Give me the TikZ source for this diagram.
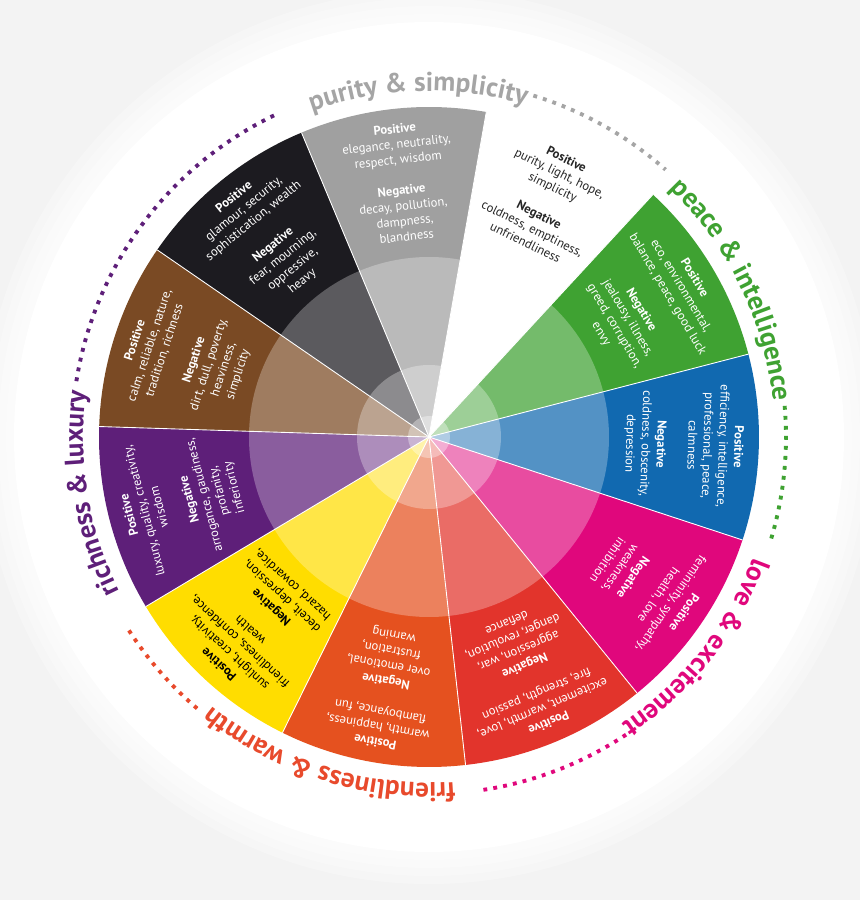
\documentclass[tikz,border=0pt]{standalone}
\usepackage{fontspec}
\setmainfont{PT Sans}
\usetikzlibrary{decorations.text}
\definecolor{bggray}{HTML}{F3F3F3}
\definecolor{wheelgray}{HTML}{A0A0A0}
\definecolor{wheelblack}{HTML}{1C1B20}
\definecolor{wheelbrown}{HTML}{7A4A24}
\definecolor{wheelpurple}{HTML}{5E1F79}
\definecolor{wheelyellow}{HTML}{FFDD00}
\definecolor{wheelorange}{HTML}{E5511F}
\definecolor{wheelred}{HTML}{E2342C}
\definecolor{wheelpink}{HTML}{E0077C}
\definecolor{wheelblue}{HTML}{1169B0}
\definecolor{wheelgreen}{HTML}{3FA232}
\definecolor{labelgray}{HTML}{A5A5A5}
\definecolor{labelred}{HTML}{E84A2C}
\newcommand\arclabelfont{\fontsize{15.5}{15.5}\selectfont\bfseries}

\begin{document}
\begin{tikzpicture}[x=0.02cm, y=0.02cm,
  sectortext/.style={font=\fontsize{7.2}{8.8}\selectfont, align=center, anchor=north, inner sep=0pt, text=white},
  dotline/.style={line width=2.2pt, dash pattern=on 2.2pt off 3.5pt}]
  \useasboundingbox (-429,-463) rectangle (431,437);
  \fill[bggray] (-429,-463) rectangle (431,437);
  \foreach \r in {447,439,431,423} \fill[white, opacity=0.3] (0,0) circle[radius=\r];
  \fill[white] (0,0) circle[radius=415];

  \foreach \col [count=\k from 0] in {white,wheelgreen,wheelblue,wheelpink,wheelred,wheelorange,wheelyellow,wheelpurple,wheelbrown,wheelblack,wheelgray} {
    \pgfmathsetmacro\a{80-(\k+1)*360/11}
    \pgfmathsetmacro\b{80-\k*360/11}
    \fill[\col] (0,0) -- (\a:330) arc[start angle=\a, end angle=\b, radius=330] -- cycle;
  }
  \fill[white, opacity=0.28] (0,0) circle[radius=180];
  \fill[white, opacity=0.3] (0,0) circle[radius=72];
  \fill[white, opacity=0.35] (0,0) circle[radius=21];
  \foreach \k in {0,...,10} \draw[white, line width=0.5pt] (0,0) -- ({80-\k*360/11}:330);

  \node[sectortext, text=black!85, rotate=-26.36] (whitetext) at (63.64:315) {\textbf{Positive}\\purity, light, hope,\\simplicity\\[8.8pt]\textbf{Negative}\\coldness, emptiness,\\unfriendliness};
  \node[sectortext, rotate=-59.09] (greentext) at (30.91:315) {\textbf{Positive}\\eco, environmental,\\balance, peace, good luck\\[8.8pt]\textbf{Negative}\\jealousy, illness,\\greed, corruption,\\envy};
  \node[sectortext, rotate=-91.82] (bluetext) at (-1.82:315) {\textbf{Positive}\\efficiency, intelligence,\\professional, peace,\\calmness\\[8.8pt]\textbf{Negative}\\coldness, obscenity,\\depression};
  \node[sectortext, rotate=-124.55] (pinktext) at (-34.55:315) {\textbf{Positive}\\femininity, sympathy,\\health, love\\[8.8pt]\textbf{Negative}\\weakness,\\inhibition};
  \node[sectortext, rotate=-157.27] (redtext) at (-67.27:315) {\textbf{Positive}\\excitement, warmth, love,\\fire, strength, passion\\[8.8pt]\textbf{Negative}\\aggression, war,\\danger, revolution,\\defiance};
  \node[sectortext, rotate=-190] (orangetext) at (-100:315) {\textbf{Positive}\\warmth, happiness,\\flamboyance, fun\\[8.8pt]\textbf{Negative}\\over emotional,\\frustration,\\warning};
  \node[sectortext, text=black, rotate=-222.73] (yellowtext) at (-132.73:315) {\textbf{Positive}\\sunlight, creativity,\\friendliness, confidence,\\wealth\\[8.8pt]\textbf{Negative}\\deceit, depression,\\hazard, cowardice,};
  \node[sectortext, rotate=-255.45] (purpletext) at (-165.45:315) {\textbf{Positive}\\luxury, quality, creativity,\\wisdom\\[8.8pt]\textbf{Negative}\\arrogance, gaudiness,\\profanity,\\inferiority};
  \node[sectortext, rotate=71.82] (browntext) at (161.82:315) {\textbf{Positive}\\calm, reliable, nature,\\tradition, richness\\[8.8pt]\textbf{Negative}\\dirt, dull, poverty,\\heaviness,\\simplicity};
  \node[sectortext, rotate=39.09] (blacktext) at (129.09:315) {\textbf{Positive}\\glamour, security,\\sophistication, wealth\\[8.8pt]\textbf{Negative}\\fear, mourning,\\oppressive,\\heavy};
  \node[sectortext, rotate=6.36] (graytext) at (96.36:315) {\textbf{Positive}\\elegance, neutrality,\\respect, wisdom\\[8.8pt]\textbf{Negative}\\decay, pollution,\\dampness,\\blandness};

  \path[decorate, decoration={text along path, text align=center, text={|\arclabelfont\color{labelgray}|purity {\&} simplicity}}] (121.8:346) arc[start angle=121.8, end angle=61.8, radius=346];
  \path[decorate, decoration={text along path, text align=center, text={|\arclabelfont\color{wheelgreen}|peace {\&} intelligence}}] (55.9:346) arc[start angle=55.9, end angle=-4.1, radius=346];
  \path[decorate, decoration={text along path, text align=center, text={|\arclabelfont\color{wheelpink}|love {\&} excitement}}] (-8.2:346) arc[start angle=-8.2, end angle=-68.2, radius=346];
  \path[decorate, decoration={text along path, text align=center, text={|\arclabelfont\color{labelred}|friendliness {\&} warmth}}] (-77.35:346) arc[start angle=-77.35, end angle=-137.35, radius=346];
  \path[decorate, decoration={text along path, text align=center, text={|\arclabelfont\color{wheelpurple}|richness {\&} luxury}}] (219.45:346) arc[start angle=219.45, end angle=159.45, radius=346];

  \draw[dotline, labelgray] (73:357) arc[start angle=73, end angle=48.5, radius=357];
  \draw[dotline, wheelgreen] (5:357) arc[start angle=5, end angle=-17.5, radius=357];
  \draw[dotline, wheelpink] (-56.5:357) arc[start angle=-56.5, end angle=-82, radius=357];
  \draw[dotline, labelred] (-130.5:357) arc[start angle=-130.5, end angle=-147.5, radius=357];
  \draw[dotline, wheelpurple] (171:357) arc[start angle=171, end angle=115.5, radius=357];
\end{tikzpicture}
\end{document}
